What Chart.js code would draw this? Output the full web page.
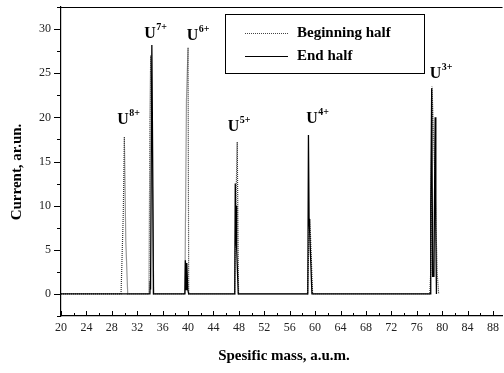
<!DOCTYPE html>
<html>
<head>
<meta charset="utf-8">
<script src="https://cdn.jsdelivr.net/npm/chart.js@4/dist/chart.umd.min.js"></script>
<style>
  html, body { margin: 0; padding: 0; background: #fff; overflow: hidden; }
  #wrap { width: 504px; height: 373px; }
</style>
</head>
<body>
<div id="wrap"><canvas id="myChart" width="504" height="373"></canvas></div>
<script>
// Beginning half (dotted)
const beginMass = [20, 29.45, 29.8, 29.97, 30.2, 30.5, 33.85, 34.0, 34.12, 34.4, 34.6,
  39.5, 39.75, 40.0, 40.1, 47.35, 47.5, 47.74, 47.95, 58.8, 59.1, 59.25, 59.6,
  78.05, 78.2, 78.4, 78.9, 79.2, 79.3, 79.45];
const beginCurrent = [0, 0, 9, 17.8, 6, 0, 0, 20, 27.0, 12, 0,
  0, 22, 27.9, 0, 0, 9, 17.2, 0, 0, 8.2, 7, 0,
  0, 2.5, 23.5, 12, 2.5, 1.5, 0];

// End half (solid)
const endMass = [20, 34.0, 34.05, 34.1, 34.3, 34.45, 34.55,
  39.5, 39.58, 39.7, 39.8, 39.95, 40.1,
  47.35, 47.43, 47.55, 47.62, 47.7, 47.9,
  58.85, 58.95, 59.05, 59.15, 59.5,
  78.1, 78.2, 78.35, 78.5, 78.7, 78.9, 79.0, 79.1];
const endCurrent = [0, 0, 1.5, 0.5, 28.2, 13, 0,
  0, 3.8, 0.5, 3.5, 0.5, 0,
  0, 12.5, 6, 10, 5, 0,
  0, 18, 8.5, 7, 0,
  0, 10, 23.3, 2, 2, 20, 7.5, 0];

// tick values
const massTicks = [20, 22, 24, 26, 28, 30, 32, 34, 36, 38, 40, 42, 44, 46, 48, 50, 52, 54,
  56, 58, 60, 62, 64, 66, 68, 70, 72, 74, 76, 78, 80, 82, 84, 86, 88];
const currentTicks = [-2.5, 0, 2.5, 5, 7.5, 10, 12.5, 15, 17.5, 20, 22.5, 25, 27.5, 30, 32.5];

// ion labels: charge, left edge (mass), baseline (current)
const ionCharge = ["8+", "7+", "6+", "5+", "4+", "3+"];
const ionMass = [28.85, 33.1, 39.8, 46.25, 58.6, 78.05];
const ionLevel = [19.2, 29.0, 28.8, 18.4, 19.4, 24.5];

const serif = "'Liberation Serif', 'DejaVu Serif', serif";

const toPoints = (xs, ys) => xs.map((x, i) => ({ x: x, y: ys[i] }));

const decor = {
  id: "decor",
  afterDraw(chart) {
    const ctx = chart.ctx;
    const area = chart.chartArea;
    const xs = chart.scales.x;
    const ys = chart.scales.y;
    ctx.save();
    ctx.strokeStyle = "#000";
    ctx.lineWidth = 1;

    // top frame line
    ctx.beginPath();
    ctx.moveTo(area.left, area.top + 0.5);
    ctx.lineTo(area.right, area.top + 0.5);
    ctx.stroke();

    // y tick marks (outward)
    ys.ticks.forEach(t => {
      const py = Math.round(ys.getPixelForValue(t.value)) + 0.5;
      const len = t.value % 5 === 0 ? 7 : 4;
      ctx.beginPath();
      ctx.moveTo(area.left - len, py);
      ctx.lineTo(area.left, py);
      ctx.stroke();
    });

    // x tick marks (inward)
    xs.ticks.forEach(t => {
      const px = Math.round(xs.getPixelForValue(t.value)) + 0.5;
      const len = t.value % 4 === 0 ? 5 : 3;
      ctx.beginPath();
      ctx.moveTo(px, area.bottom);
      ctx.lineTo(px, area.bottom - len);
      ctx.stroke();
    });

    // ion labels
    ctx.fillStyle = "#000";
    ctx.textBaseline = "alphabetic";
    ctx.textAlign = "left";
    ionCharge.forEach((c, i) => {
      const px = xs.getPixelForValue(ionMass[i]);
      const py = ys.getPixelForValue(ionLevel[i]);
      ctx.font = "bold 16px " + serif;
      ctx.fillText("U", px, py);
      const w = ctx.measureText("U").width;
      ctx.font = "bold 10px " + serif;
      ctx.fillText(c, px + w + 0.5, py - 8);
    });

    // legend box
    const lx = 225, ly = 14, lw = 199, lh = 59;
    ctx.lineWidth = 1;
    ctx.strokeRect(lx + 0.5, ly + 0.5, lw, lh);
    ctx.font = "bold 15px " + serif;
    ctx.textBaseline = "middle";
    // dotted sample
    ctx.strokeStyle = "#444";
    ctx.setLineDash([1, 1]);
    ctx.beginPath();
    ctx.moveTo(245, 33.5);
    ctx.lineTo(288, 33.5);
    ctx.stroke();
    ctx.setLineDash([]);
    ctx.strokeStyle = "#000";
    ctx.beginPath();
    ctx.moveTo(245, 56.5);
    ctx.lineTo(288, 56.5);
    ctx.stroke();
    ctx.fillText("Beginning half", 297, 33);
    ctx.fillText("End half", 297, 56);

    // axis titles
    ctx.textAlign = "center";
    ctx.fillText("Spesific mass, a.u.m.", 284, 356);
    ctx.translate(17, 172);
    ctx.rotate(-Math.PI / 2);
    ctx.fillText("Current, ar.un.", 0, 0);
    ctx.restore();
  }
};

const data = {
  datasets: [
    {
      label: "End half",
      data: toPoints(endMass, endCurrent),
      borderColor: "#000",
      borderWidth: 1.3,
      showLine: true,
      pointRadius: 0,
      tension: 0,
      order: 0
    },
    {
      label: "Beginning half",
      data: toPoints(beginMass, beginCurrent),
      borderColor: "#333",
      borderWidth: 1.2,
      borderDash: [1, 1],
      showLine: true,
      pointRadius: 0,
      tension: 0,
      order: 1
    }
  ]
};

const config = {
  type: "scatter",
  data: data,
  options: {
    responsive: false,
    animation: false,
    layout: { padding: { top: 7, right: 0, left: 0, bottom: 0 } },
    plugins: { legend: { display: false }, tooltip: { enabled: false } },
    scales: {
      x: {
        type: "linear",
        min: 20,
        max: 89.5,
        afterBuildTicks: s => { s.ticks = massTicks.map(v => ({ value: v })); },
        afterFit: s => { s.height = 57; },
        grid: { display: false, drawTicks: false },
        border: { display: true, color: "#000", width: 1.2 },
        ticks: {
          autoSkip: false,
          maxRotation: 0,
          padding: 5,
          color: "#222",
          font: { family: serif, size: 12 },
          callback: v => (v % 4 === 0 ? v : "")
        }
      },
      y: {
        type: "linear",
        min: -2.5,
        max: 32.5,
        afterBuildTicks: s => { s.ticks = currentTicks.map(v => ({ value: v })); },
        afterFit: s => { s.width = 61; s.paddingTop = 0; s.paddingBottom = 0; },
        grid: { display: false, drawTicks: false },
        border: { display: true, color: "#000", width: 1.2 },
        ticks: {
          autoSkip: false,
          padding: 10,
          color: "#222",
          font: { family: serif, size: 12 },
          callback: v => (v % 5 === 0 && v >= 0 ? v : "")
        }
      }
    }
  },
  plugins: [decor]
};

new Chart(document.getElementById("myChart"), config);
</script>
</body>
</html>
